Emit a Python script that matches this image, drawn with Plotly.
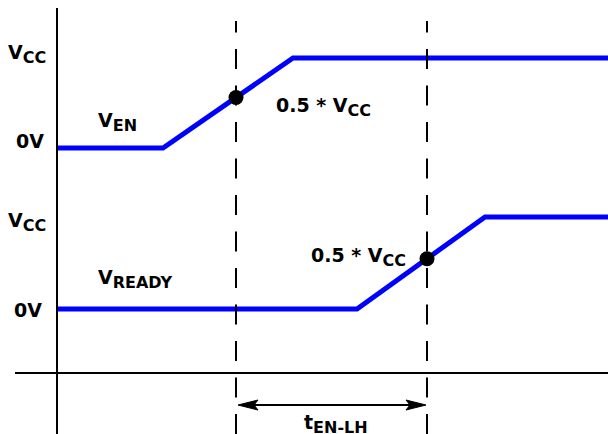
import numpy as np
import plotly.graph_objects as go

W, H = 608, 434

# ---- data (time in arbitrary units, voltage normalised to Vcc = 1) ----
t_en = [0, 10.6, 23.6, 56]
v_en = [0, 0, 1, 1]
t_ready = [0, 30.0, 42.8, 56]
v_ready = [0, 0, 1, 1]
t_marks = [17.9, 37.0]          # dashed reference instants (50 % crossings)
level_labels = ["0V", "V<sub><span style='font-size:16px'>CC</span></sub>"]
signal_labels = ["V<sub><span style='font-size:16px'>EN</span></sub>",
                 "V<sub><span style='font-size:16px'>READY</span></sub>"]
mid_label = "0.5 * V<sub><span style='font-size:16px'>CC</span></sub>"
delay_label = "t<sub><span style='font-size:16px'>EN-LH</span></sub>"

BLUE = "#0000FF"
FONT = dict(family="DejaVu Sans", size=19, color="black", weight="bold")


def px_x(p):
    return p / W


def px_y(p):
    return 1 - p / H


fig = go.Figure()

# signal traces
fig.add_trace(go.Scatter(x=t_en, y=v_en, mode="lines", yaxis="y2",
                         line=dict(color=BLUE, width=5), hoverinfo="skip"))
fig.add_trace(go.Scatter(x=t_ready, y=v_ready, mode="lines", yaxis="y",
                         line=dict(color=BLUE, width=5), hoverinfo="skip"))

# 50 % crossing dots
fig.add_trace(go.Scatter(x=[t_marks[0]], y=[np.interp(t_marks[0], t_en, v_en)],
                         mode="markers", yaxis="y2",
                         marker=dict(color="black", size=15), hoverinfo="skip"))
fig.add_trace(go.Scatter(x=[t_marks[1]], y=[np.interp(t_marks[1], t_ready, v_ready)],
                         mode="markers", yaxis="y",
                         marker=dict(color="black", size=15), hoverinfo="skip"))

shapes = []
# axes
shapes.append(dict(type="line", xref="x", yref="paper", x0=0, x1=0,
                   y0=0, y1=px_y(8), line=dict(color="black", width=2)))
shapes.append(dict(type="line", xref="x", yref="paper", x0=-4.2, x1=60,
                   y0=px_y(373), y1=px_y(373), line=dict(color="black", width=2)))
# dashed reference lines (drawn bottom-up)
for tm in t_marks:
    shapes.append(dict(type="line", xref="x", yref="paper", x0=tm, x1=tm,
                       y0=0, y1=px_y(21),
                       line=dict(color="black", width=2, dash="20px,16.5px")))
# delay arrow
ya = px_y(405)
shapes.append(dict(type="line", xref="x", yref="paper", x0=t_marks[0] + 1.0,
                   x1=t_marks[1] - 1.0, y0=ya, y1=ya,
                   line=dict(color="black", width=2)))
shapes.append(dict(type="path", xref="x", yref="paper", xsizemode="pixel",
                   ysizemode="pixel", xanchor=t_marks[0], yanchor=ya,
                   path="M2,0 L22,5 L18,0 L22,-5 Z",
                   fillcolor="black", line=dict(color="black", width=1)))
shapes.append(dict(type="path", xref="x", yref="paper", xsizemode="pixel",
                   ysizemode="pixel", xanchor=t_marks[1], yanchor=ya,
                   path="M-1,0 L-21,5 L-17,0 L-21,-5 Z",
                   fillcolor="black", line=dict(color="black", width=1)))

annotations = []


def add_text(text, px, py, xanchor):
    annotations.append(dict(text=text, x=px_x(px), y=px_y(py), xref="paper",
                            yref="paper", xanchor=xanchor, yanchor="middle",
                            showarrow=False, font=FONT))


add_text(level_labels[1], 48, 54, "right")
add_text(level_labels[0], 46, 141, "right")
add_text(level_labels[1], 48, 222, "right")
add_text(level_labels[0], 44, 310, "right")
add_text(signal_labels[0], 96, 122, "left")
add_text(signal_labels[1], 96, 279, "left")
add_text(mid_label, 274, 107, "left")
add_text(mid_label, 408, 257, "right")
add_text(delay_label, 336, 424, "center")

fig.update_layout(
    width=W, height=H, autosize=False,
    margin=dict(l=0, r=0, t=0, b=0),
    paper_bgcolor="white", plot_bgcolor="white",
    showlegend=False,
    xaxis=dict(range=[-5.7, 55.1], visible=False, fixedrange=True),
    yaxis=dict(range=[-125 / 92, 309 / 92], visible=False, fixedrange=True),
    yaxis2=dict(range=[(148 - 434) / 90, 148 / 90], visible=False,
                overlaying="y", fixedrange=True),
    shapes=shapes,
    annotations=annotations,
)

fig.write_html("out.html", config={"displayModeBar": False},
               post_script="document.body.style.margin='0';"
                           "document.body.style.overflow='hidden';")
